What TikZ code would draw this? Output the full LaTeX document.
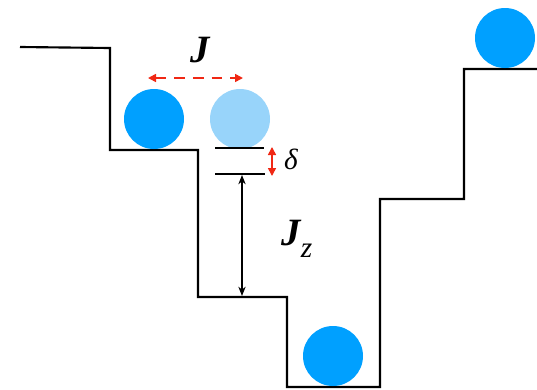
\documentclass[tikz,border=0pt]{standalone}
\usepackage{fontspec}
\setmainfont{Liberation Serif}
\usetikzlibrary{arrows.meta}
\definecolor{ballblue}{RGB}{0,160,255}
\definecolor{balllight}{RGB}{152,212,250}
\definecolor{arrowred}{RGB}{240,40,20}
\begin{document}
\begin{tikzpicture}[x=0.75pt,y=-0.75pt,
  wall/.style={line width=1.6pt,line join=miter},
  ball/.style={circle,fill=ballblue,minimum size=45pt,inner sep=0pt},
  lightball/.style={ball,fill=balllight},
  level/.style={line width=1.3pt},
  redarrow/.style={arrowred,line width=1.2pt,{Triangle[length=6pt,width=6pt]}-{Triangle[length=6pt,width=6pt]}},
  gaparrow/.style={line width=0.9pt,{Stealth[length=7pt,width=5.5pt]}-{Stealth[length=7pt,width=5.5pt]}},
  lbl/.style={inner sep=0pt},
  biglbl/.style={lbl,font=\fontsize{29}{31}\selectfont\bfseries\itshape}]
\useasboundingbox (0,0) rectangle (537,390);

% staircase profile
\draw[wall] (20,47) -- (110,48) -- (110,150) -- (198,150) -- (198,297)
  -- (287,297) -- (287,387) -- (380,387) -- (380,199) -- (464,199)
  -- (464,69) -- (537,69);

% particles
\node[ball] (b1) at (154,119) {};
\node[lightball] (b2) at (240,119) {};
\node[ball] (b3) at (333,356) {};
\node[ball] (b4) at (505,38) {};

% hopping J
\coordinate (jl) at (148,78);
\coordinate (jr) at (243,78);
\draw[redarrow,dashed,dash pattern=on 8pt off 6pt] (jl) -- (jr);
\node[biglbl] (J) at (200,50) {J};

% offset delta
\coordinate (d1l) at (215,148);
\coordinate (d1r) at (264,148);
\coordinate (d2l) at (215,174);
\coordinate (d2r) at (265,174);
\draw[level] (d1l) -- (d1r);
\draw[level] (d2l) -- (d2r);
\coordinate (dt) at (272,147);
\coordinate (db) at (272,176);
\draw[redarrow] (dt) -- (db);
\node[lbl,font=\fontsize{22}{24}\selectfont\itshape] (delta) at (291,159) {δ};

% interaction Jz
\coordinate (zt) at (242,175);
\coordinate (zb) at (242,296);
\draw[gaparrow] (zt) -- (zb);
\node[biglbl] (Jz) at (297,239) {J\raisebox{-0.3em}{\mdseries\fontsize{22}{24}\selectfont z}};
\end{tikzpicture}
\end{document}
